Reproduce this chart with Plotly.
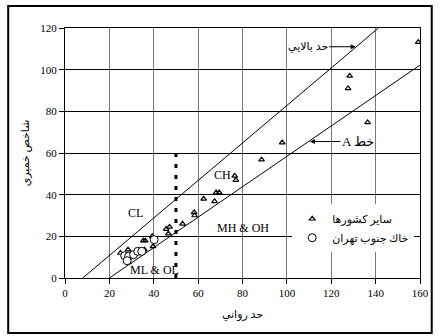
import plotly.graph_objects as go

# Data: liquid limit (LL) vs plasticity index (PI)
other_ll = [25, 28.4, 28.6, 35.3, 36.2, 35.8, 39.3, 39.7, 45.6, 47.1, 46.6, 53, 58.2, 58.4,
            62.5, 67.4, 68.1, 69.5, 76.5, 77, 88.6, 97.9, 127.6, 128.3, 136.4, 159.2]
other_pi = [12, 13.6, 7.5, 17.9, 17.9, 13.6, 20, 15.2, 23.5, 24.5, 21.3, 26, 31.5, 30,
            38, 36.8, 41, 41, 49, 47, 56.8, 65, 91, 97, 74.7, 113.2]

tehran_ll = [26.9, 28.7, 30.9, 32.8, 34.6, 40.2, 28.0]
tehran_pi = [10.7, 10.4, 11.2, 12.8, 12.8, 18.4, 8.3]

u_line_ll = [8, 141.3]
u_line_pi = [0, 120]
a_line_ll = [20, 160]
a_line_pi = [0, 102.2]
ll50_x = [50, 50]
ll50_y = [0, 60]

x_ticks = [0, 20, 40, 60, 80, 100, 120, 140, 160]
y_ticks = [0, 20, 40, 60, 80, 100, 120]

fig = go.Figure()
fig.add_trace(go.Scatter(x=u_line_ll, y=u_line_pi, mode="lines",
                         line=dict(color="black", width=1), showlegend=False, hoverinfo="skip"))
fig.add_trace(go.Scatter(x=a_line_ll, y=a_line_pi, mode="lines",
                         line=dict(color="black", width=1), showlegend=False, hoverinfo="skip"))
fig.add_trace(go.Scatter(x=ll50_x, y=ll50_y, mode="lines",
                         line=dict(color="black", width=3, dash="4px,7px"),
                         showlegend=False, hoverinfo="skip"))
fig.add_trace(go.Scatter(x=other_ll, y=other_pi, mode="markers", name="ساير كشورها",
                         marker=dict(symbol="triangle-up-open", size=5, color="black",
                                     line=dict(width=1.2, color="black"))))
fig.add_trace(go.Scatter(x=tehran_ll, y=tehran_pi, mode="markers", name="خاك جنوب تهران",
                         marker=dict(symbol="circle", size=8, color="white",
                                     line=dict(width=1, color="black"))))

serif = "Liberation Serif, Times New Roman, DejaVu Sans, serif"
ann = []
def txt(x, y, t, size=12):
    ann.append(dict(x=x, y=y, text=t, showarrow=False, xref="x", yref="y",
                    font=dict(family=serif, size=size, color="black")))
txt(31.8, 31.3, "CL")
txt(71, 49.6, "CH")
txt(80, 24, "MH &amp; OH")
txt(40.5, 4, "ML &amp; OL")
txt(50, -3, "50", 11)
ann.append(dict(x=131, y=111, text="حد بالايي", showarrow=True, ax=-48, ay=0,
                arrowhead=2, arrowsize=1, arrowwidth=1, arrowcolor="black",
                font=dict(family=serif, size=11, color="black")))
ann.append(dict(x=110.4, y=65.5, text="A خط", showarrow=True, ax=48, ay=0,
                arrowhead=2, arrowsize=1, arrowwidth=1, arrowcolor="black",
                font=dict(family=serif, size=13, color="black")))

fig.update_layout(
    width=441, height=336,
    margin=dict(l=65, r=14, t=28, b=58),
    paper_bgcolor="white", plot_bgcolor="white",
    font=dict(family=serif, size=11, color="black"),
    annotations=ann,
    showlegend=True,
    legend=dict(x=0.64, y=0.295, xanchor="left", yanchor="top",
                bgcolor="white", borderwidth=0,
                font=dict(family=serif, size=11, color="black"),
                tracegroupgap=0, itemwidth=30),
    shapes=[dict(type="rect", xref="paper", yref="paper",
                 x0=-0.160, x1=1.033, y0=-0.22, y1=1.088,
                 line=dict(color="black", width=2), fillcolor="rgba(0,0,0,0)")],
)
fig.update_xaxes(range=[0, 160], tickvals=x_ticks, showgrid=True, gridcolor="#777",
                 gridwidth=1, showline=True, linecolor="black", linewidth=1, mirror=True,
                 ticks="outside", ticklen=5, tickcolor="black", zeroline=False,
                 title=dict(text="حد رواني", font=dict(size=11, color="black"), standoff=12))
fig.update_yaxes(range=[0, 120], tickvals=y_ticks, showgrid=True, gridcolor="black",
                 gridwidth=1, showline=True, linecolor="black", linewidth=1, mirror=True,
                 ticks="outside", ticklen=5, tickcolor="black", zeroline=False,
                 title=dict(text="شاخص خميري", font=dict(size=11, color="black"), standoff=8))

fig.write_html("out.html")
